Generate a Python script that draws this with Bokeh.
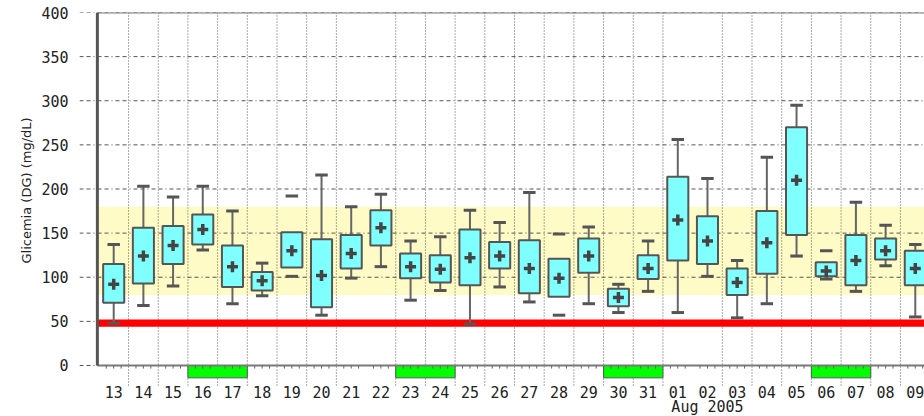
import numpy as np
import pandas as pd
from bokeh.plotting import figure
from bokeh.models import Range1d, FixedTicker, Title
from bokeh.core.properties import value
from bokeh.embed import file_html
from bokeh.resources import INLINE

# Daily blood glucose summary, 13 Jul - 09 Aug 2005 (mg/dL)
days = ["13", "14", "15", "16", "17", "18", "19", "20", "21", "22", "23", "24",
        "25", "26", "27", "28", "29", "30", "31", "01", "02", "03", "04", "05",
        "06", "07", "08", "09"]
glucose_min = [48, 68, 90, 131, 70, 79, 101, 57, 99, 112, 74, 85,
               47, 89, 72, 57, 70, 60, 84, 60, 101, 54, 70, 124,
               98, 84, 113, 55]
glucose_q1 = [71, 93, 115, 137, 89, 85, 111, 66, 110, 136, 99, 94,
              91, 110, 82, 78, 105, 67, 98, 119, 115, 80, 104, 148,
              101, 91, 120, 91]
glucose_q3 = [115, 156, 158, 171, 136, 106, 151, 143, 148, 176, 127, 125,
              154, 140, 142, 121, 144, 87, 125, 214, 169, 110, 175, 270,
              117, 148, 144, 130]
glucose_max = [137, 203, 191, 203, 175, 116, 192, 216, 180, 194, 141, 146,
               176, 162, 196, 149, 157, 92, 141, 256, 212, 119, 236, 295,
               130, 185, 159, 137]
glucose_mean = [92, 124, 136, 154, 112, 96, 130, 102, 127, 156, 112, 109,
                122, 124, 110, 99, 124, 77, 110, 165, 141, 94, 139, 210,
                107, 119, 130, 110]
# days whose extremes are shown only as bars, without whisker stems
bars_only_days = ["19", "28", "06"]

first_day = "2005-07-13"
month_label = "Aug 2005"
y_title = "Glicemia (DG) (mg/dL)"
y_ticks = [0, 50, 100, 150, 200, 250, 300, 350, 400]
target_low, target_high = 80, 180
hypo_level = 48
# day boundaries that carry no vertical grid line
unlined_after = ["21", "01"]

# ---- layout constants ----
X_START, X_END = -1.152, 27.31
Y_START, Y_END = -57.8, 400
AXIS_X = -0.55
BOX_HALF = 0.355
CAP_HALF = 0.21
INK = "#555555"
TEXT = "#222222"

n = len(days)
xs = np.arange(n, dtype=float)
dates = pd.date_range(first_day, periods=n, freq="D")

p = figure(width=924, height=416, output_backend="svg", toolbar_location=None,
           x_range=Range1d(X_START, X_END), y_range=Range1d(Y_START, Y_END),
           x_axis_location=None, min_border_left=79, min_border_right=0,
           min_border_top=12, min_border_bottom=0)
p.outline_line_color = None
p.background_fill_color = "white"
p.border_fill_color = "white"
p.xgrid.visible = False
p.ygrid.visible = False

p.yaxis.ticker = FixedTicker(ticks=y_ticks)
p.yaxis.axis_line_color = None
p.yaxis.major_tick_line_color = None
p.yaxis.minor_tick_line_color = None
p.yaxis.major_tick_out = 0
p.yaxis.major_tick_in = 0
p.yaxis.major_label_standoff = 11
p.yaxis.major_label_text_font = "DejaVu Sans Mono"
p.yaxis.major_label_text_font_size = "15px"
p.yaxis.major_label_text_color = TEXT

# vertical axis title, raised above the frame centre
p.add_layout(Title(text=y_title, align="left", offset=153, standoff=10,
                   text_font="DejaVu Sans", text_font_size="13px",
                   text_font_style="normal", text_color=TEXT), "left")

# target range band
p.quad(left=[AXIS_X], right=[X_END + 1], bottom=[target_low], top=[target_high],
       fill_color="#FFFBC6", line_color=None)

# horizontal grid (dash-dot), reaching left past the axis like tick marks
p.segment(x0=[X_START] * len(y_ticks), x1=[X_END + 1] * len(y_ticks),
          y0=y_ticks, y1=y_ticks, line_color=INK, line_width=1,
          line_dash="4 3 4 3 1 3")

# vertical dotted lines at day boundaries, extending below the time axis
bounds = [xs[i] + 0.5 for i in range(n - 1) if days[i] not in unlined_after]
p.segment(x0=bounds, x1=bounds, y0=[-22.7] * len(bounds), y1=[Y_END] * len(bounds),
          line_color=INK, line_width=1, line_dash="1 2")

# hypoglycaemia line
p.quad(left=[AXIS_X], right=[X_END + 1], bottom=[hypo_level - 4], top=[hypo_level + 4],
       fill_color="#FF0000", line_color=None)

# weekend markers under the time axis
weekend = dates.dayofweek >= 5
we_left, we_right = [], []
i = 0
while i < n:
    if weekend[i]:
        j = i
        while j + 1 < n and weekend[j + 1]:
            j += 1
        we_left.append(xs[i] - 0.5)
        we_right.append(xs[j] + 0.5)
        i = j + 1
    else:
        i += 1
p.quad(left=we_left, right=we_right, bottom=[-14] * len(we_left), top=[0] * len(we_left),
       fill_color="#00FF00", line_color=INK, line_width=1)

# frame: time axis, top border, value axis
p.segment(x0=[AXIS_X, AXIS_X], x1=[X_END + 1, X_END + 1], y0=[0, Y_END], y1=[0, Y_END],
          line_color="#7A7A7A", line_width=2)
p.segment(x0=[AXIS_X], x1=[AXIS_X], y0=[0], y1=[Y_END], line_color=INK, line_width=3)

# 6-hour minor ticks on the time axis
minor = [xs[k] - 0.5 + q * 0.25 for k in range(n) for q in (1, 2, 3)]
p.segment(x0=minor, x1=minor, y0=[0] * len(minor), y1=[-3.5] * len(minor),
          line_color="#666666", line_width=1)

# whisker stems
stem_x, stem_lo, stem_hi = [], [], []
for k in range(n):
    if days[k] in bars_only_days:
        continue
    stem_x += [xs[k], xs[k]]
    stem_lo += [glucose_q3[k], glucose_min[k]]
    stem_hi += [glucose_max[k], glucose_q1[k]]
p.segment(x0=stem_x, x1=stem_x, y0=stem_lo, y1=stem_hi, line_color="#666666", line_width=2)

# boxes
p.quad(left=xs - BOX_HALF, right=xs + BOX_HALF, bottom=glucose_q1, top=glucose_q3,
       fill_color="#80FFFF", line_color=INK, line_width=2)

# caps at min / max
cap_x0 = np.concatenate([xs - CAP_HALF, xs - CAP_HALF])
cap_x1 = np.concatenate([xs + CAP_HALF, xs + CAP_HALF])
cap_y = glucose_min + glucose_max
p.segment(x0=cap_x0, x1=cap_x1, y0=cap_y, y1=cap_y, line_color=INK, line_width=3)

# daily mean
p.scatter(xs, glucose_mean, marker="cross", size=11, line_width=3.5, line_color="#444444")

# day labels and month label
p.text(x=xs, y=-29.5, text=days, text_font=value("DejaVu Sans Mono"),
       text_font_size=value("15px"), text_align="center", text_baseline="middle",
       text_color=TEXT)
p.text(x=[xs[days.index("02")]], y=[-46.5], text=[month_label],
       text_font=value("DejaVu Sans Mono"), text_font_size=value("15px"),
       text_align="center", text_baseline="middle", text_color=TEXT)

open("out.html", "w").write(file_html(p, INLINE))
